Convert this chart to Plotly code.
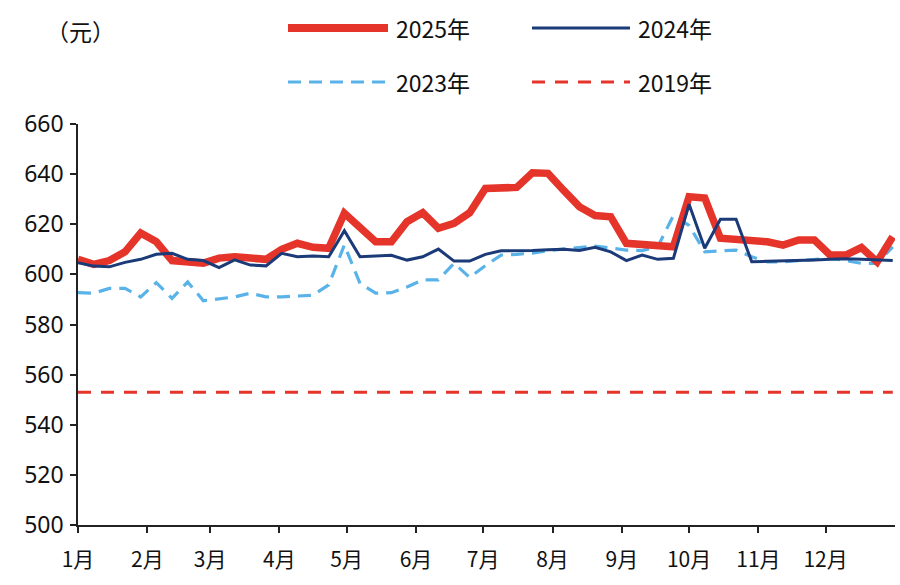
import pandas as pd
import plotly.graph_objects as go

# weekly series (53 weeks)
weeks = pd.date_range("2025-01-01", periods=53, freq="7D")

y2025 = [606, 604, 605.5, 609, 616.5, 613, 605.5, 605, 604.5, 606.5, 607, 606.5, 606,
         610, 612.4, 610.8, 610.4, 624.4, 619, 613, 613, 621, 624.6, 618.4, 620.4, 624.6,
         634.3, 634.5, 634.7, 640.5, 640.3, 633.5, 627, 623.5, 623, 612.4, 612, 611.5, 611,
         631, 630.5, 614.4, 614, 614, 613, 611.7, 613.7, 613.7, 607.7, 607.7, 610.7, 605, 615]
y2024 = [604.7, 603.3, 603, 604.8, 606, 608, 608.4, 606, 605.5, 602.7, 605.8, 603.7, 603.4,
         608.4, 607, 607.3, 607, 617.4, 607, 607.3, 607.6, 605.7, 607, 610.1, 605.3, 605.3,
         608, 609.4, 609.4, 609.5, 609.8, 610, 609.5, 610.8, 609, 605.5, 607.7, 606, 606.4,
         628, 610.4, 622, 622, 605, 605.2, 605.3, 605.5, 605.7, 606, 606.2, 606, 605.8, 605.5]
y2023 = [592.7, 592.5, 594.4, 594.4, 591, 596.7, 590.4, 597, 589.5, 590.4, 591, 592.5, 591,
         591, 591.2, 591.7, 595.8, 611.7, 596.4, 592.5, 592.7, 595, 597.8, 597.8, 604.4, 598.8,
         603.5, 607.7, 608, 608.5, 609.5, 610, 610.5, 611.3, 610.5, 609.7, 609.5, 611, 623.5,
         619.5, 609, 609.5, 609.7, 607, 605, 605, 605.5, 605.8, 606.4, 605.5, 604.4, 604.4, 611]
y2019 = [553] * 53

month_ticks = pd.date_range("2025-01-01", periods=12, freq="MS")
month_labels = ["1月", "2月", "3月", "4月", "5月", "6月", "7月", "8月", "9月", "10月", "11月", "12月"]
y_ticks = [500, 520, 540, 560, 580, 600, 620, 640, 660]

C25 = "#E5352B"
C24 = "#1B3A78"
C23 = "#5AB3E8"
C19 = "#E5352B"

fig = go.Figure()
fig.add_trace(go.Scatter(x=weeks, y=y2019, mode="lines", name="2019年",
                         line=dict(color=C19, width=3, dash="13px,10px")))
fig.add_trace(go.Scatter(x=weeks, y=y2023, mode="lines", name="2023年",
                         line=dict(color=C23, width=3.2, dash="13px,8px")))
fig.add_trace(go.Scatter(x=weeks, y=y2025, mode="lines", name="2025年",
                         line=dict(color=C25, width=7.5)))
fig.add_trace(go.Scatter(x=weeks, y=y2024, mode="lines", name="2024年",
                         line=dict(color=C24, width=3)))

FONT_X = "Liberation Sans Narrow, Noto Sans CJK SC, sans-serif"
FONT_Y = "Noto Sans, Noto Sans CJK SC, sans-serif"

fig.update_layout(
    width=900, height=585,
    margin=dict(l=78, r=5, t=124, b=60),
    paper_bgcolor="white", plot_bgcolor="white",
    showlegend=False,
    xaxis=dict(
        type="date", range=["2025-01-01", "2026-01-01"],
        tickmode="array", tickvals=list(month_ticks), ticktext=month_labels,
        showgrid=False, zeroline=False, showline=True, linecolor="#222", linewidth=1.5,
        ticks="outside", ticklen=6, tickcolor="#222", tickwidth=1.5,
        ticklabelstandoff=9,
        tickfont=dict(family=FONT_X, size=21, color="#111"),
    ),
    yaxis=dict(
        range=[500, 660], tickmode="array", tickvals=y_ticks,
        showgrid=False, zeroline=False, showline=True, linecolor="#222", linewidth=1.5,
        ticks="outside", ticklen=6, tickcolor="#222", tickwidth=1.5,
        ticklabelstandoff=2,
        tickfont=dict(family=FONT_Y, size=23, color="#111"),
    ),
)

# custom legend (paper coordinates)
def px2x(p):
    return (p - 78) / 817.0

def py2y(p):
    return (525 - p) / 401.0

legend_items = [
    ("2025年", C25, 8, "solid", 288, 388, 28),
    ("2024年", C24, 3, "solid", 532, 630, 28),
    ("2023年", C23, 3.2, "13px,8px", 288, 388, 82),
    ("2019年", C19, 3.2, "13px,10px", 532, 630, 82),
]
for name, col, w, dash, x0, x1, yy in legend_items:
    fig.add_shape(type="line", xref="paper", yref="paper",
                  x0=px2x(x0), x1=px2x(x1), y0=py2y(yy), y1=py2y(yy),
                  line=dict(color=col, width=w, dash=dash))
    fig.add_annotation(xref="paper", yref="paper", x=px2x(x1 + 6), y=py2y(yy),
                       text=name, showarrow=False, xanchor="left", yanchor="middle",
                       font=dict(family=FONT_X, size=23, color="#111"))

fig.add_annotation(xref="paper", yref="paper", x=px2x(44), y=py2y(31),
                   text="（元）", showarrow=False, xanchor="left", yanchor="middle",
                   font=dict(family="Noto Sans CJK SC, sans-serif", size=23, color="#111"))

fig.write_html("out.html")
